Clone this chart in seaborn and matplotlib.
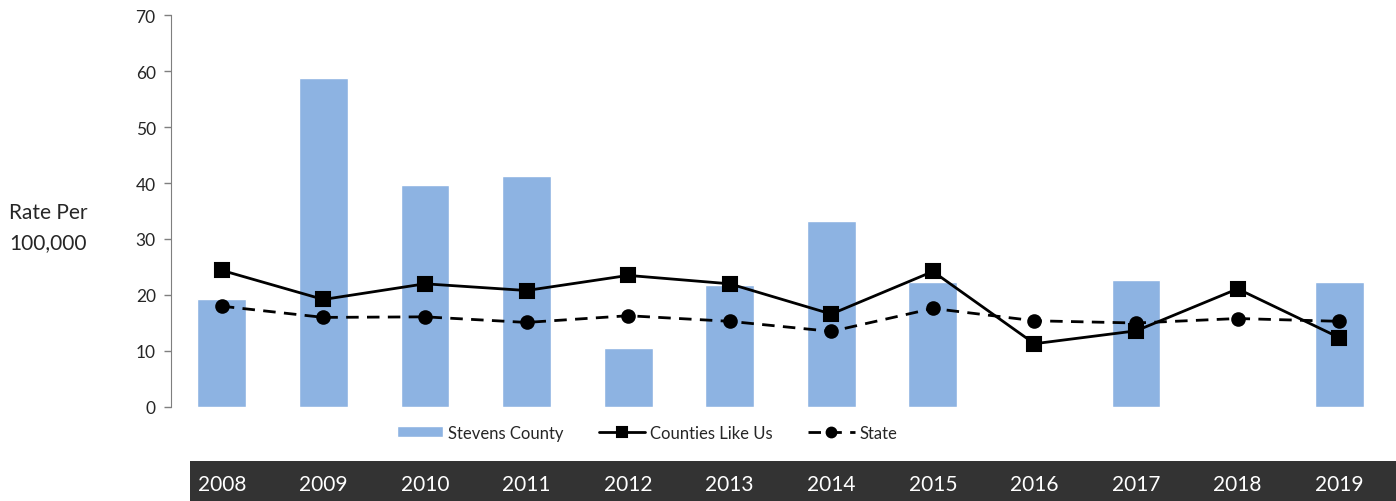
import matplotlib
matplotlib.use('Agg')
import matplotlib.pyplot as plt
import matplotlib.transforms as mtransforms
from matplotlib.patches import Rectangle
import numpy as np
import pandas as pd
import seaborn as sns

years = ['2008', '2009', '2010', '2011', '2012', '2013',
         '2014', '2015', '2016', '2017', '2018', '2019']
stevens = [19.3, 58.8, 39.7, 41.2, 10.5, 21.7, 33.3, 22.4, np.nan, 22.7, np.nan, 22.4]
counties = [24.4, 19.2, 22.0, 20.8, 23.5, 22.0, 16.6, 24.2, 11.3, 13.6, 21.1, 12.4]
state = [18.0, 16.0, 16.1, 15.1, 16.3, 15.3, 13.5, 17.6, 15.4, 15.0, 15.8, 15.3]

df = pd.DataFrame({'year': years, 'stevens': stevens,
                   'counties': counties, 'state': state})

sns.set_style('white')
plt.rcParams['font.family'] = ['Lato', 'DejaVu Sans']

fig = plt.figure(figsize=(13.96, 5.02), dpi=100)
ax = fig.add_axes([171 / 1396, 1 - 408 / 502, (1390 - 171) / 1396, (408 - 16) / 502])

sns.barplot(data=df, x='year', y='stevens', color='#8DB3E2', saturation=1,
            width=0.48, label='Stevens County', ax=ax)
sns.pointplot(data=df, x='year', y='counties', color='black', markers='s',
              linestyles='-', markersize=9.5, linewidth=2,
              label='Counties Like Us', ax=ax)
sns.pointplot(data=df, x='year', y='state', color='black', markers='o',
              linestyles='--', markersize=9, linewidth=2,
              label='State', ax=ax)

# dash pattern of the State line
for ln in ax.lines:
    if ln.get_linestyle() == '--':
        ln.set_dashes((4.5, 3.0))

if ax.get_legend() is not None:
    ax.get_legend().remove()

ax.set_ylim(0, 70)
ax.set_xlim(-0.5, len(years) - 0.5)
ax.set_yticks(range(0, 71, 10))
ax.set_xticks([])
ax.set_xlabel('')
ax.set_ylabel('')
ax.tick_params(axis='y', labelsize=12.5, length=5, width=1, color='#7F7F7F',
               left=True, pad=6)
for side in ['top', 'right', 'bottom']:
    ax.spines[side].set_visible(False)
ax.spines['left'].set_color('#7F7F7F')

fig.text(9 / 1396, 1 - 228 / 502, 'Rate Per\n100,000', ha='left', va='center',
         fontsize=15, linespacing=1.6)

handles, labels = ax.get_legend_handles_labels()
order = [labels.index(n) for n in ['Stevens County', 'Counties Like Us', 'State']]
handles = [handles[i] for i in order]
labels = [labels[i] for i in order]
leg = fig.legend(handles, labels, loc='center left',
                 bbox_to_anchor=(385 / 1396, 1 - 434 / 502), ncol=3, frameon=False,
                 fontsize=12, handlelength=2.8, handletextpad=0.3,
                 columnspacing=2.1, borderpad=0.2)
for h in leg.legend_handles:
    if isinstance(h, Rectangle):
        h.set_height(8)
        h.set_y(1)
    else:
        h.set_markersize(7)

# dark band with the year labels
fig.patches.append(Rectangle((190 / 1396, 0), (1396 - 190) / 1396, 40 / 502,
                             transform=fig.transFigure, facecolor='#333333',
                             edgecolor='none', zorder=0))
trans = mtransforms.blended_transform_factory(ax.transData, fig.transFigure)
for i, yr in enumerate(years):
    fig.text(i, 1 - 485 / 502, yr, transform=trans, ha='center', va='center',
             color='white', fontsize=15)

fig.savefig('out.png', dpi=100)
